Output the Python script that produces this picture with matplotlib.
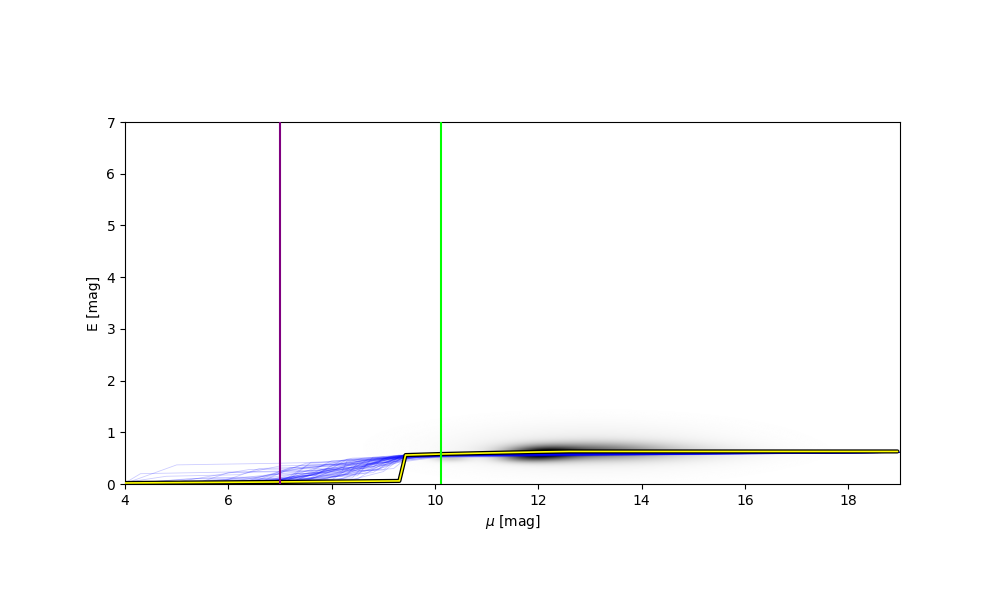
import numpy as np
import matplotlib
matplotlib.use("Agg")
import matplotlib.pyplot as plt

# ---- data ----
xlim = (4.0, 19.0)
ylim = (0.0, 7.0)
purple_mu = 7.0
green_mu = 10.12

# best-fit (median) extinction profile
median_mu = [4.0, 7.0, 9.31, 9.43, 10.1, 11.0, 12.0, 12.6, 18.95]
median_E = [0.02, 0.04, 0.06, 0.56, 0.58, 0.60, 0.62, 0.63, 0.63]

# density blobs (centre mu, centre E, sigma mu, sigma E, amplitude)
blob_mu = [12.1, 12.9, 14.0, 13.0, 10.3, 11.7]
blob_E = [0.59, 0.63, 0.62, 0.70, 0.50, 0.50]
blob_smu = [0.45, 0.90, 1.20, 1.80, 0.25, 0.35]
blob_sE = [0.09, 0.11, 0.12, 0.30, 0.05, 0.06]
blob_amp = [0.75, 0.45, 0.15, 0.08, 0.20, 0.28]

# sample extinction profiles (knots: mu, E)
sample_paths = [
    [(4, 0.02), (4.3, 0.20), (7.0, 0.25), (8.2, 0.40), (9.5, 0.52), (11, 0.60), (19, 0.61)],
    [(4, 0.01), (5.0, 0.37), (6.9, 0.40), (7.8, 0.42), (9.2, 0.55), (11, 0.60), (19, 0.61)],
    [(4, 0.00), (5.2, 0.10), (6.5, 0.12), (7.4, 0.30), (9.0, 0.45), (10.2, 0.56), (19, 0.61)],
    [(4, 0.00), (6.8, 0.05), (7.5, 0.20), (8.6, 0.35), (9.4, 0.55), (19, 0.61)],
    [(4, 0.02), (5.5, 0.05), (6.0, 0.22), (7.6, 0.25), (8.0, 0.45), (9.6, 0.50), (11, 0.60), (19, 0.61)],
    [(4, 0.01), (6.0, 0.02), (7.3, 0.15), (8.3, 0.18), (8.5, 0.40), (9.4, 0.56), (19, 0.61)],
    [(4, 0.00), (7.0, 0.04), (7.9, 0.30), (8.8, 0.32), (9.0, 0.50), (10.5, 0.58), (19, 0.61)],
    [(4, 0.03), (4.8, 0.15), (6.2, 0.18), (7.0, 0.35), (8.1, 0.38), (9.3, 0.55), (19, 0.61)],
    [(4, 0.00), (6.5, 0.04), (7.2, 0.10), (8.0, 0.28), (8.7, 0.30), (9.4, 0.54), (19, 0.61)],
    [(4, 0.01), (5.8, 0.02), (6.6, 0.30), (7.7, 0.33), (8.4, 0.50), (10.0, 0.55), (11.5, 0.61), (19, 0.62)],
    [(4, 0.00), (7.1, 0.05), (8.0, 0.12), (8.9, 0.40), (9.4, 0.45), (10.3, 0.57), (19, 0.61)],
    [(4, 0.02), (6.9, 0.06), (7.6, 0.22), (8.2, 0.24), (8.3, 0.45), (9.5, 0.55), (19, 0.61)],
    [(4, 0.00), (5.0, 0.02), (6.1, 0.10), (7.4, 0.12), (8.6, 0.42), (9.8, 0.57), (19, 0.61)],
    [(4, 0.01), (6.7, 0.03), (7.8, 0.20), (8.5, 0.24), (9.1, 0.52), (19, 0.61)],
    [(4, 0.00), (7.0, 0.02), (7.5, 0.35), (8.8, 0.40), (9.3, 0.54), (19, 0.61)],
    [(4, 0.00), (6.0, 0.04), (7.0, 0.20), (8.0, 0.30), (8.3, 0.48), (9.9, 0.52), (11, 0.60), (19, 0.61)],
    [(4, 0.02), (6.4, 0.05), (7.3, 0.07), (8.1, 0.35), (9.0, 0.38), (9.4, 0.55), (19, 0.61)],
    [(4, 0.00), (7.2, 0.06), (7.9, 0.10), (8.4, 0.30), (9.2, 0.46), (10.1, 0.56), (19, 0.61)],
    [(4, 0.01), (5.6, 0.12), (6.8, 0.14), (7.5, 0.40), (8.5, 0.43), (9.4, 0.56), (19, 0.61)],
    [(4, 0.00), (6.9, 0.04), (8.2, 0.15), (8.7, 0.48), (9.6, 0.52), (10.6, 0.59), (19, 0.61)],
    [(4, 0.01), (6.3, 0.03), (7.7, 0.18), (8.0, 0.36), (9.0, 0.40), (9.4, 0.56), (19, 0.61)],
    [(4, 0.00), (7.4, 0.06), (8.3, 0.25), (9.0, 0.27), (9.3, 0.53), (19, 0.61)],
    [(4, 0.00), (6.6, 0.02), (7.1, 0.26), (8.4, 0.28), (8.9, 0.45), (10.0, 0.56), (19, 0.61)],
    [(4, 0.02), (5.9, 0.06), (7.0, 0.08), (7.9, 0.38), (9.1, 0.42), (9.5, 0.56), (19, 0.61)],
    [(4, 0.00), (7.0, 0.05), (8.6, 0.20), (9.1, 0.35), (9.5, 0.50), (10.4, 0.58), (19, 0.61)],
    [(4, 0.01), (6.2, 0.04), (7.6, 0.12), (8.2, 0.46), (9.2, 0.50), (9.7, 0.57), (19, 0.61)],
    [(4, 0.00), (7.3, 0.07), (7.8, 0.28), (8.6, 0.30), (8.8, 0.52), (19, 0.61)],
    [(4, 0.00), (5.4, 0.03), (6.8, 0.18), (7.9, 0.22), (8.7, 0.38), (9.4, 0.55), (19, 0.61)],
    [(4, 0.01), (7.0, 0.03), (7.7, 0.08), (8.9, 0.30), (9.4, 0.52), (19, 0.61)],
    [(4, 0.00), (6.0, 0.03), (8.0, 0.08), (8.4, 0.35), (9.3, 0.44), (9.8, 0.56), (19, 0.61)],
    [(4, 0.02), (6.5, 0.05), (7.2, 0.32), (8.0, 0.34), (8.6, 0.50), (10.2, 0.55), (11.2, 0.61), (19, 0.62)],
    [(4, 0.00), (7.5, 0.04), (8.5, 0.10), (9.0, 0.40), (9.4, 0.54), (19, 0.61)],
    [(4, 0.01), (6.8, 0.06), (7.4, 0.16), (8.3, 0.20), (9.0, 0.48), (9.5, 0.56), (19, 0.61)],
    [(4, 0.00), (7.1, 0.03), (7.6, 0.42), (8.8, 0.46), (9.3, 0.56), (19, 0.61)],
    [(4, 0.00), (6.4, 0.02), (7.9, 0.14), (8.5, 0.16), (8.7, 0.40), (9.6, 0.48), (10.4, 0.58), (19, 0.61)],
    [(4, 0.02), (7.0, 0.08), (8.1, 0.26), (8.9, 0.44), (9.4, 0.56), (19, 0.61)],
    [(4, 0.00), (6.9, 0.02), (8.0, 0.04), (8.6, 0.25), (9.2, 0.30), (9.5, 0.54), (19, 0.61)],
    [(4, 0.01), (5.7, 0.08), (7.2, 0.10), (8.2, 0.32), (9.1, 0.36), (9.6, 0.57), (19, 0.61)],
    [(4, 0.00), (7.2, 0.04), (8.4, 0.12), (8.6, 0.34), (9.3, 0.50), (10.1, 0.57), (19, 0.61)],
    [(4, 0.00), (6.7, 0.05), (7.5, 0.25), (8.4, 0.27), (9.2, 0.55), (19, 0.61)],
    [(4, 0.01), (7.0, 0.04), (7.8, 0.15), (8.8, 0.22), (9.2, 0.48), (9.8, 0.55), (19, 0.61)],
    [(4, 0.00), (6.1, 0.02), (7.3, 0.20), (8.1, 0.22), (8.9, 0.50), (19, 0.61)],
    [(4, 0.00), (7.6, 0.05), (8.7, 0.28), (9.2, 0.42), (9.5, 0.55), (19, 0.61)],
    [(4, 0.02), (6.6, 0.07), (7.6, 0.10), (8.5, 0.44), (9.5, 0.50), (10.5, 0.58), (19, 0.61)],
    [(4, 0.00), (7.0, 0.02), (8.3, 0.06), (9.0, 0.24), (9.4, 0.54), (19, 0.61)],
    [(4, 0.01), (6.3, 0.04), (7.4, 0.36), (8.3, 0.40), (9.0, 0.53), (19, 0.61)],
    [(4, 0.00), (7.3, 0.06), (8.0, 0.18), (8.9, 0.36), (9.6, 0.46), (10.6, 0.59), (19, 0.61)],
    [(4, 0.00), (6.8, 0.03), (7.7, 0.26), (8.7, 0.42), (9.3, 0.55), (19, 0.61)],
    [(4, 0.01), (7.1, 0.05), (8.2, 0.10), (8.8, 0.30), (9.4, 0.50), (10.0, 0.56), (19, 0.61)],
    [(4, 0.00), (6.5, 0.03), (7.5, 0.14), (8.3, 0.38), (9.2, 0.52), (19, 0.61)],
    [(4, 0.00), (5.0, 0.04), (6.4, 0.28), (7.7, 0.30), (8.8, 0.34), (9.4, 0.55), (19, 0.61)],
    [(4, 0.02), (7.0, 0.04), (7.9, 0.24), (8.9, 0.28), (9.5, 0.56), (19, 0.61)],
    [(4, 0.00), (6.2, 0.01), (7.2, 0.04), (8.5, 0.30), (9.3, 0.54), (19, 0.61)],
    [(4, 0.01), (7.4, 0.03), (8.6, 0.46), (9.6, 0.53), (10.3, 0.57), (19, 0.61)],
]

# ---- figure ----
fig = plt.figure(figsize=(10, 6), dpi=100)
ax = fig.add_axes([0.125, 0.1933, 0.775, 0.6033])

# density image
gx = np.linspace(xlim[0], xlim[1], 600)
gy = np.linspace(ylim[0], 2.0, 400)
GX, GY = np.meshgrid(gx, gy)
dens = np.zeros_like(GX)
for m, e, sm, se, a in zip(blob_mu, blob_E, blob_smu, blob_sE, blob_amp):
    dens += a * np.exp(-0.5 * (((GX - m) / sm) ** 2 + ((GY - e) / se) ** 2))
ax.imshow(dens, extent=[xlim[0], xlim[1], ylim[0], 2.0], origin="lower",
          aspect="auto", cmap="gray_r", vmin=0, vmax=1.05,
          interpolation="bilinear", zorder=0)

for p in sample_paths:
    xs = [q[0] for q in p]
    ys = [q[1] for q in p]
    ax.plot(xs, ys, color="blue", lw=0.6, alpha=0.2, zorder=2)

ax.plot(median_mu, median_E, color="black", lw=3.0, zorder=3, solid_capstyle="round")
ax.plot(median_mu, median_E, color="yellow", lw=1.2, zorder=4)

ax.axvline(purple_mu, color="purple", lw=1.5, zorder=5)
ax.axvline(green_mu, color="lime", lw=1.5, zorder=5)

ax.set_xlim(*xlim)
ax.set_ylim(*ylim)
ax.set_xticks([4, 6, 8, 10, 12, 14, 16, 18])
ax.set_yticks([0, 1, 2, 3, 4, 5, 6, 7])
ax.set_xlabel(r"$\mu$ [mag]")
ax.set_ylabel("E [mag]")

fig.savefig("out.png", dpi=100)
